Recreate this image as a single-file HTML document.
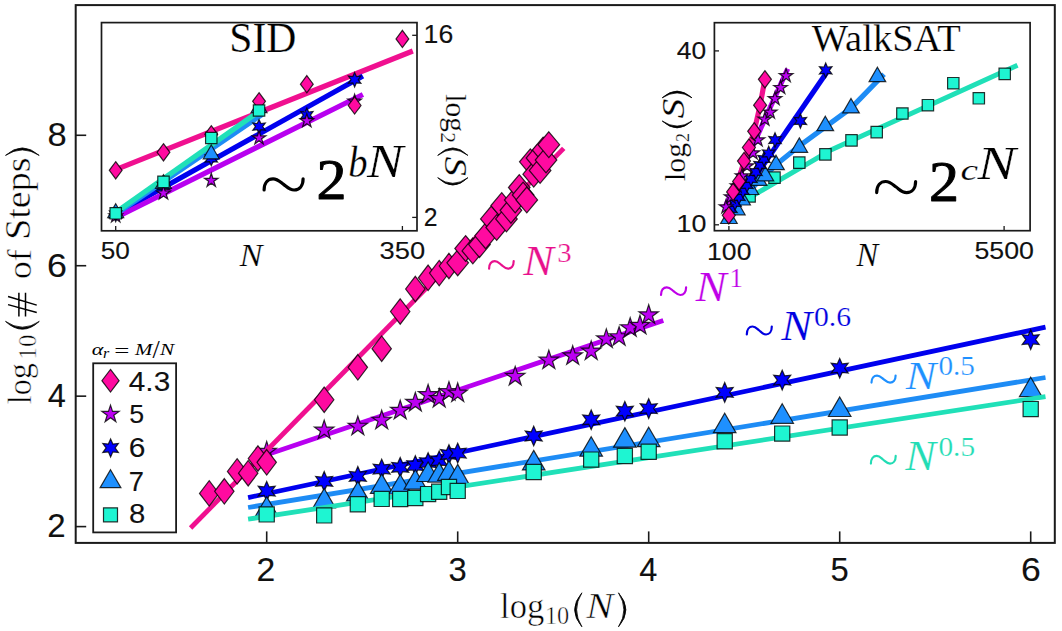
<!DOCTYPE html>
<html><head><meta charset="utf-8"><style>
html,body{margin:0;padding:0;background:#fff;}
svg{display:block;}
</style></head><body>
<svg width="1062" height="631" viewBox="0 0 1062 631">
<rect width="1062" height="631" fill="#fff"/>
<path d="M248.1,497.6L1045.5,327.2" fill="none" stroke="#0000ee" stroke-width="4.8" stroke-linecap="butt" stroke-linejoin="round"/>
<path d="M266.7,481.4L269.15,486.96L275.19,486.3L271.6,491.2L275.19,496.1L269.15,495.44L266.7,501L264.25,495.44L258.21,496.1L261.8,491.2L258.21,486.3L264.25,486.96Z" fill="#0000ff" stroke="#000" stroke-opacity="0.8" stroke-width="1.2"/>
<path d="M324.2,471.6L326.65,477.16L332.68,476.5L329.1,481.4L332.68,486.3L326.65,485.64L324.2,491.2L321.75,485.64L315.71,486.3L319.3,481.4L315.71,476.5L321.75,477.16Z" fill="#0000ff" stroke="#000" stroke-opacity="0.8" stroke-width="1.2"/>
<path d="M357.83,466.6L360.28,472.16L366.32,471.5L362.73,476.4L366.32,481.3L360.28,480.64L357.83,486.2L355.38,480.64L349.34,481.3L352.93,476.4L349.34,471.5L355.38,472.16Z" fill="#0000ff" stroke="#000" stroke-opacity="0.8" stroke-width="1.2"/>
<path d="M381.69,459.3L384.14,464.86L390.18,464.2L386.59,469.1L390.18,474L384.14,473.34L381.69,478.9L379.24,473.34L373.21,474L376.79,469.1L373.21,464.2L379.24,464.86Z" fill="#0000ff" stroke="#000" stroke-opacity="0.8" stroke-width="1.2"/>
<path d="M400.2,457.5L402.65,463.06L408.69,462.4L405.1,467.3L408.69,472.2L402.65,471.54L400.2,477.1L397.75,471.54L391.72,472.2L395.3,467.3L391.72,462.4L397.75,463.06Z" fill="#0000ff" stroke="#000" stroke-opacity="0.8" stroke-width="1.2"/>
<path d="M415.33,455.8L417.78,461.36L423.81,460.7L420.23,465.6L423.81,470.5L417.78,469.84L415.33,475.4L412.88,469.84L406.84,470.5L410.43,465.6L406.84,460.7L412.88,461.36Z" fill="#0000ff" stroke="#000" stroke-opacity="0.8" stroke-width="1.2"/>
<path d="M428.11,452.8L430.56,458.36L436.6,457.7L433.01,462.6L436.6,467.5L430.56,466.84L428.11,472.4L425.66,466.84L419.63,467.5L423.21,462.6L419.63,457.7L425.66,458.36Z" fill="#0000ff" stroke="#000" stroke-opacity="0.8" stroke-width="1.2"/>
<path d="M439.19,451L441.64,456.56L447.68,455.9L444.09,460.8L447.68,465.7L441.64,465.04L439.19,470.6L436.74,465.04L430.7,465.7L434.29,460.8L430.7,455.9L436.74,456.56Z" fill="#0000ff" stroke="#000" stroke-opacity="0.8" stroke-width="1.2"/>
<path d="M448.96,444.7L451.41,450.26L457.45,449.6L453.86,454.5L457.45,459.4L451.41,458.74L448.96,464.3L446.51,458.74L440.47,459.4L444.06,454.5L440.47,449.6L446.51,450.26Z" fill="#0000ff" stroke="#000" stroke-opacity="0.8" stroke-width="1.2"/>
<path d="M457.7,443.3L460.15,448.86L466.19,448.2L462.6,453.1L466.19,458L460.15,457.34L457.7,462.9L455.25,457.34L449.21,458L452.8,453.1L449.21,448.2L455.25,448.86Z" fill="#0000ff" stroke="#000" stroke-opacity="0.8" stroke-width="1.2"/>
<path d="M533.71,426.2L536.16,431.76L542.19,431.1L538.61,436L542.19,440.9L536.16,440.24L533.71,445.8L531.26,440.24L525.22,440.9L528.81,436L525.22,431.1L531.26,431.76Z" fill="#0000ff" stroke="#000" stroke-opacity="0.8" stroke-width="1.2"/>
<path d="M591.2,410L593.65,415.56L599.69,414.9L596.1,419.8L599.69,424.7L593.65,424.04L591.2,429.6L588.75,424.04L582.72,424.7L586.3,419.8L582.72,414.9L588.75,415.56Z" fill="#0000ff" stroke="#000" stroke-opacity="0.8" stroke-width="1.2"/>
<path d="M624.84,401.4L627.29,406.96L633.32,406.3L629.74,411.2L633.32,416.1L627.29,415.44L624.84,421L622.39,415.44L616.35,416.1L619.94,411.2L616.35,406.3L622.39,406.96Z" fill="#0000ff" stroke="#000" stroke-opacity="0.8" stroke-width="1.2"/>
<path d="M648.7,398.8L651.15,404.36L657.19,403.7L653.6,408.6L657.19,413.5L651.15,412.84L648.7,418.4L646.25,412.84L640.21,413.5L643.8,408.6L640.21,403.7L646.25,404.36Z" fill="#0000ff" stroke="#000" stroke-opacity="0.8" stroke-width="1.2"/>
<path d="M724.71,382.6L727.16,388.16L733.19,387.5L729.61,392.4L733.19,397.3L727.16,396.64L724.71,402.2L722.26,396.64L716.22,397.3L719.81,392.4L716.22,387.5L722.26,388.16Z" fill="#0000ff" stroke="#000" stroke-opacity="0.8" stroke-width="1.2"/>
<path d="M782.2,370.3L784.65,375.86L790.69,375.2L787.1,380.1L790.69,385L784.65,384.34L782.2,389.9L779.75,384.34L773.72,385L777.3,380.1L773.72,375.2L779.75,375.86Z" fill="#0000ff" stroke="#000" stroke-opacity="0.8" stroke-width="1.2"/>
<path d="M839.7,358.4L842.15,363.96L848.19,363.3L844.6,368.2L848.19,373.1L842.15,372.44L839.7,378L837.25,372.44L831.21,373.1L834.8,368.2L831.21,363.3L837.25,363.96Z" fill="#0000ff" stroke="#000" stroke-opacity="0.8" stroke-width="1.2"/>
<path d="M1030.7,329.8L1033.15,335.36L1039.19,334.7L1035.6,339.6L1039.19,344.5L1033.15,343.84L1030.7,349.4L1028.25,343.84L1022.21,344.5L1025.8,339.6L1022.21,334.7L1028.25,335.36Z" fill="#0000ff" stroke="#000" stroke-opacity="0.8" stroke-width="1.2"/>
<path d="M248.1,507.5L1045.5,377.5" fill="none" stroke="#1e8cf5" stroke-width="4.8" stroke-linecap="butt" stroke-linejoin="round"/>
<path d="M266.7,496.6L277.96,516.1L255.44,516.1Z" fill="#1e90ff" stroke="#000" stroke-opacity="0.8" stroke-width="1.2"/>
<path d="M324.2,488.5L335.45,508L312.94,508Z" fill="#1e90ff" stroke="#000" stroke-opacity="0.8" stroke-width="1.2"/>
<path d="M357.83,481.4L369.09,500.9L346.57,500.9Z" fill="#1e90ff" stroke="#000" stroke-opacity="0.8" stroke-width="1.2"/>
<path d="M381.69,473.9L392.95,493.4L370.44,493.4Z" fill="#1e90ff" stroke="#000" stroke-opacity="0.8" stroke-width="1.2"/>
<path d="M400.2,474.5L411.46,494L388.95,494Z" fill="#1e90ff" stroke="#000" stroke-opacity="0.8" stroke-width="1.2"/>
<path d="M415.33,469.7L426.58,489.2L404.07,489.2Z" fill="#1e90ff" stroke="#000" stroke-opacity="0.8" stroke-width="1.2"/>
<path d="M428.11,462L439.37,481.5L416.86,481.5Z" fill="#1e90ff" stroke="#000" stroke-opacity="0.8" stroke-width="1.2"/>
<path d="M439.19,462.6L450.45,482.1L427.93,482.1Z" fill="#1e90ff" stroke="#000" stroke-opacity="0.8" stroke-width="1.2"/>
<path d="M448.96,460.8L460.22,480.3L437.7,480.3Z" fill="#1e90ff" stroke="#000" stroke-opacity="0.8" stroke-width="1.2"/>
<path d="M457.7,464.4L468.96,483.9L446.44,483.9Z" fill="#1e90ff" stroke="#000" stroke-opacity="0.8" stroke-width="1.2"/>
<path d="M533.71,450.4L544.96,469.9L522.45,469.9Z" fill="#1e90ff" stroke="#000" stroke-opacity="0.8" stroke-width="1.2"/>
<path d="M591.2,436.7L602.46,456.2L579.95,456.2Z" fill="#1e90ff" stroke="#000" stroke-opacity="0.8" stroke-width="1.2"/>
<path d="M624.84,427.6L636.09,447.1L613.58,447.1Z" fill="#1e90ff" stroke="#000" stroke-opacity="0.8" stroke-width="1.2"/>
<path d="M648.7,427.2L659.96,446.7L637.44,446.7Z" fill="#1e90ff" stroke="#000" stroke-opacity="0.8" stroke-width="1.2"/>
<path d="M724.71,413.2L735.96,432.7L713.45,432.7Z" fill="#1e90ff" stroke="#000" stroke-opacity="0.8" stroke-width="1.2"/>
<path d="M782.2,403.8L793.46,423.3L770.95,423.3Z" fill="#1e90ff" stroke="#000" stroke-opacity="0.8" stroke-width="1.2"/>
<path d="M839.7,397L850.96,416.5L828.44,416.5Z" fill="#1e90ff" stroke="#000" stroke-opacity="0.8" stroke-width="1.2"/>
<path d="M1030.7,377.2L1041.96,396.7L1019.44,396.7Z" fill="#1e90ff" stroke="#000" stroke-opacity="0.8" stroke-width="1.2"/>
<path d="M248.1,519.2L1045.5,396.6" fill="none" stroke="#20e0b8" stroke-width="4.8" stroke-linecap="butt" stroke-linejoin="round"/>
<path d="M259.1,506.8h15.2v15.2h-15.2Z" fill="#1ef5d2" stroke="#000" stroke-opacity="0.8" stroke-width="1.2"/>
<path d="M316.6,507.8h15.2v15.2h-15.2Z" fill="#1ef5d2" stroke="#000" stroke-opacity="0.8" stroke-width="1.2"/>
<path d="M350.23,496.6h15.2v15.2h-15.2Z" fill="#1ef5d2" stroke="#000" stroke-opacity="0.8" stroke-width="1.2"/>
<path d="M374.09,491.3h15.2v15.2h-15.2Z" fill="#1ef5d2" stroke="#000" stroke-opacity="0.8" stroke-width="1.2"/>
<path d="M392.6,491.4h15.2v15.2h-15.2Z" fill="#1ef5d2" stroke="#000" stroke-opacity="0.8" stroke-width="1.2"/>
<path d="M407.73,490.4h15.2v15.2h-15.2Z" fill="#1ef5d2" stroke="#000" stroke-opacity="0.8" stroke-width="1.2"/>
<path d="M420.51,486.5h15.2v15.2h-15.2Z" fill="#1ef5d2" stroke="#000" stroke-opacity="0.8" stroke-width="1.2"/>
<path d="M431.59,484.2h15.2v15.2h-15.2Z" fill="#1ef5d2" stroke="#000" stroke-opacity="0.8" stroke-width="1.2"/>
<path d="M441.36,479.4h15.2v15.2h-15.2Z" fill="#1ef5d2" stroke="#000" stroke-opacity="0.8" stroke-width="1.2"/>
<path d="M450.1,483.3h15.2v15.2h-15.2Z" fill="#1ef5d2" stroke="#000" stroke-opacity="0.8" stroke-width="1.2"/>
<path d="M526.11,464.4h15.2v15.2h-15.2Z" fill="#1ef5d2" stroke="#000" stroke-opacity="0.8" stroke-width="1.2"/>
<path d="M583.6,452h15.2v15.2h-15.2Z" fill="#1ef5d2" stroke="#000" stroke-opacity="0.8" stroke-width="1.2"/>
<path d="M617.24,448.4h15.2v15.2h-15.2Z" fill="#1ef5d2" stroke="#000" stroke-opacity="0.8" stroke-width="1.2"/>
<path d="M641.1,444.1h15.2v15.2h-15.2Z" fill="#1ef5d2" stroke="#000" stroke-opacity="0.8" stroke-width="1.2"/>
<path d="M717.11,433.6h15.2v15.2h-15.2Z" fill="#1ef5d2" stroke="#000" stroke-opacity="0.8" stroke-width="1.2"/>
<path d="M774.6,426h15.2v15.2h-15.2Z" fill="#1ef5d2" stroke="#000" stroke-opacity="0.8" stroke-width="1.2"/>
<path d="M832.1,419.9h15.2v15.2h-15.2Z" fill="#1ef5d2" stroke="#000" stroke-opacity="0.8" stroke-width="1.2"/>
<path d="M1023.1,401.5h15.2v15.2h-15.2Z" fill="#1ef5d2" stroke="#000" stroke-opacity="0.8" stroke-width="1.2"/>
<path d="M266.7,454.8L663.3,320.6" fill="none" stroke="#b800f0" stroke-width="4.8" stroke-linecap="butt" stroke-linejoin="round"/>
<path d="M266.7,441.4L268.99,448.45L276.4,448.45L270.41,452.8L272.7,459.85L266.7,455.5L260.7,459.85L262.99,452.8L257,448.45L264.41,448.45Z" fill="#bc00f2" stroke="#000" stroke-opacity="0.8" stroke-width="1.2"/>
<path d="M324.2,420.1L326.49,427.15L333.9,427.15L327.9,431.5L330.19,438.55L324.2,434.2L318.2,438.55L320.49,431.5L314.5,427.15L321.91,427.15Z" fill="#bc00f2" stroke="#000" stroke-opacity="0.8" stroke-width="1.2"/>
<path d="M357.83,416.2L360.12,423.25L367.53,423.25L361.54,427.6L363.83,434.65L357.83,430.3L351.83,434.65L354.12,427.6L348.13,423.25L355.54,423.25Z" fill="#bc00f2" stroke="#000" stroke-opacity="0.8" stroke-width="1.2"/>
<path d="M381.69,410.2L383.98,417.25L391.39,417.25L385.4,421.6L387.69,428.65L381.69,424.3L375.7,428.65L377.99,421.6L371.99,417.25L379.4,417.25Z" fill="#bc00f2" stroke="#000" stroke-opacity="0.8" stroke-width="1.2"/>
<path d="M400.2,400.3L402.49,407.35L409.9,407.35L403.91,411.7L406.2,418.75L400.2,414.4L394.21,418.75L396.5,411.7L390.5,407.35L397.91,407.35Z" fill="#bc00f2" stroke="#000" stroke-opacity="0.8" stroke-width="1.2"/>
<path d="M415.33,392.4L417.62,399.45L425.03,399.45L419.03,403.8L421.32,410.85L415.33,406.5L409.33,410.85L411.62,403.8L405.63,399.45L413.04,399.45Z" fill="#bc00f2" stroke="#000" stroke-opacity="0.8" stroke-width="1.2"/>
<path d="M428.11,384.5L430.4,391.55L437.81,391.55L431.82,395.9L434.11,402.95L428.11,398.6L422.12,402.95L424.41,395.9L418.41,391.55L425.82,391.55Z" fill="#bc00f2" stroke="#000" stroke-opacity="0.8" stroke-width="1.2"/>
<path d="M439.19,388.5L441.48,395.55L448.89,395.55L442.9,399.9L445.19,406.95L439.19,402.6L433.19,406.95L435.48,399.9L429.49,395.55L436.9,395.55Z" fill="#bc00f2" stroke="#000" stroke-opacity="0.8" stroke-width="1.2"/>
<path d="M448.96,381.6L451.25,388.65L458.66,388.65L452.67,393L454.96,400.05L448.96,395.7L442.96,400.05L445.25,393L439.26,388.65L446.67,388.65Z" fill="#bc00f2" stroke="#000" stroke-opacity="0.8" stroke-width="1.2"/>
<path d="M457.7,383L459.99,390.05L467.4,390.05L461.41,394.4L463.7,401.45L457.7,397.1L451.7,401.45L453.99,394.4L448,390.05L455.41,390.05Z" fill="#bc00f2" stroke="#000" stroke-opacity="0.8" stroke-width="1.2"/>
<path d="M515.2,366.4L517.49,373.45L524.9,373.45L518.9,377.8L521.19,384.85L515.2,380.5L509.2,384.85L511.49,377.8L505.5,373.45L512.91,373.45Z" fill="#bc00f2" stroke="#000" stroke-opacity="0.8" stroke-width="1.2"/>
<path d="M548.83,350.1L551.12,357.15L558.53,357.15L552.54,361.5L554.83,368.55L548.83,364.2L542.83,368.55L545.12,361.5L539.13,357.15L546.54,357.15Z" fill="#bc00f2" stroke="#000" stroke-opacity="0.8" stroke-width="1.2"/>
<path d="M572.69,345.8L574.98,352.85L582.39,352.85L576.4,357.2L578.69,364.25L572.69,359.9L566.7,364.25L568.99,357.2L562.99,352.85L570.4,352.85Z" fill="#bc00f2" stroke="#000" stroke-opacity="0.8" stroke-width="1.2"/>
<path d="M591.2,341L593.49,348.05L600.9,348.05L594.91,352.4L597.2,359.45L591.2,355.1L585.21,359.45L587.5,352.4L581.5,348.05L588.91,348.05Z" fill="#bc00f2" stroke="#000" stroke-opacity="0.8" stroke-width="1.2"/>
<path d="M606.33,328.9L608.62,335.95L616.03,335.95L610.03,340.3L612.32,347.35L606.33,343L600.33,347.35L602.62,340.3L596.63,335.95L604.04,335.95Z" fill="#bc00f2" stroke="#000" stroke-opacity="0.8" stroke-width="1.2"/>
<path d="M619.11,326.7L621.4,333.75L628.81,333.75L622.82,338.1L625.11,345.15L619.11,340.8L613.12,345.15L615.41,338.1L609.41,333.75L616.82,333.75Z" fill="#bc00f2" stroke="#000" stroke-opacity="0.8" stroke-width="1.2"/>
<path d="M630.19,317.7L632.48,324.75L639.89,324.75L633.9,329.1L636.19,336.15L630.19,331.8L624.19,336.15L626.48,329.1L620.49,324.75L627.9,324.75Z" fill="#bc00f2" stroke="#000" stroke-opacity="0.8" stroke-width="1.2"/>
<path d="M639.96,315.3L642.25,322.35L649.66,322.35L643.67,326.7L645.96,333.75L639.96,329.4L633.96,333.75L636.25,326.7L630.26,322.35L637.67,322.35Z" fill="#bc00f2" stroke="#000" stroke-opacity="0.8" stroke-width="1.2"/>
<path d="M648.7,304.8L650.99,311.85L658.4,311.85L652.41,316.2L654.7,323.25L648.7,318.9L642.7,323.25L644.99,316.2L639,311.85L646.41,311.85Z" fill="#bc00f2" stroke="#000" stroke-opacity="0.8" stroke-width="1.2"/>
<path d="M190.6,528L563.7,148.4" fill="none" stroke="#f01090" stroke-width="4.8" stroke-linecap="butt" stroke-linejoin="round"/>
<path d="M209.2,480.7L218.9,493.4L209.2,506.1L199.5,493.4Z" fill="#ff0aa0" stroke="#000" stroke-opacity="0.8" stroke-width="1.2"/>
<path d="M224.33,478.6L234.03,491.3L224.33,504L214.63,491.3Z" fill="#ff0aa0" stroke="#000" stroke-opacity="0.8" stroke-width="1.2"/>
<path d="M237.11,458.7L246.81,471.4L237.11,484.1L227.41,471.4Z" fill="#ff0aa0" stroke="#000" stroke-opacity="0.8" stroke-width="1.2"/>
<path d="M248.19,460.5L257.89,473.2L248.19,485.9L238.49,473.2Z" fill="#ff0aa0" stroke="#000" stroke-opacity="0.8" stroke-width="1.2"/>
<path d="M257.96,445.8L267.66,458.5L257.96,471.2L248.26,458.5Z" fill="#ff0aa0" stroke="#000" stroke-opacity="0.8" stroke-width="1.2"/>
<path d="M266.7,449.6L276.4,462.3L266.7,475L257,462.3Z" fill="#ff0aa0" stroke="#000" stroke-opacity="0.8" stroke-width="1.2"/>
<path d="M324.2,387.05L333.9,399.75L324.2,412.45L314.5,399.75Z" fill="#ff0aa0" stroke="#000" stroke-opacity="0.8" stroke-width="1.2"/>
<path d="M357.83,354.6L367.53,367.3L357.83,380L348.13,367.3Z" fill="#ff0aa0" stroke="#000" stroke-opacity="0.8" stroke-width="1.2"/>
<path d="M381.69,336L391.39,348.7L381.69,361.4L371.99,348.7Z" fill="#ff0aa0" stroke="#000" stroke-opacity="0.8" stroke-width="1.2"/>
<path d="M400.2,298.8L409.9,311.5L400.2,324.2L390.5,311.5Z" fill="#ff0aa0" stroke="#000" stroke-opacity="0.8" stroke-width="1.2"/>
<path d="M415.33,276.3L425.03,289L415.33,301.7L405.63,289Z" fill="#ff0aa0" stroke="#000" stroke-opacity="0.8" stroke-width="1.2"/>
<path d="M428.11,265.1L437.81,277.8L428.11,290.5L418.41,277.8Z" fill="#ff0aa0" stroke="#000" stroke-opacity="0.8" stroke-width="1.2"/>
<path d="M439.19,260.4L448.89,273.1L439.19,285.8L429.49,273.1Z" fill="#ff0aa0" stroke="#000" stroke-opacity="0.8" stroke-width="1.2"/>
<path d="M448.96,253.3L458.66,266L448.96,278.7L439.26,266Z" fill="#ff0aa0" stroke="#000" stroke-opacity="0.8" stroke-width="1.2"/>
<path d="M457.7,249.9L468.5,262.8L457.7,275.7L446.9,262.8Z" fill="#ff0aa0" stroke="#000" stroke-opacity="0.8" stroke-width="1.2"/>
<path d="M465.61,235.6L476.41,248.5L465.61,261.4L454.81,248.5Z" fill="#ff0aa0" stroke="#000" stroke-opacity="0.8" stroke-width="1.2"/>
<path d="M472.82,238L483.62,250.9L472.82,263.8L462.02,250.9Z" fill="#ff0aa0" stroke="#000" stroke-opacity="0.8" stroke-width="1.2"/>
<path d="M479.46,231.7L490.26,244.6L479.46,257.5L468.66,244.6Z" fill="#ff0aa0" stroke="#000" stroke-opacity="0.8" stroke-width="1.2"/>
<path d="M485.61,222.9L496.41,235.8L485.61,248.7L474.81,235.8Z" fill="#ff0aa0" stroke="#000" stroke-opacity="0.8" stroke-width="1.2"/>
<path d="M491.33,206L502.13,218.9L491.33,231.8L480.53,218.9Z" fill="#ff0aa0" stroke="#000" stroke-opacity="0.8" stroke-width="1.2"/>
<path d="M496.69,214.6L507.49,227.5L496.69,240.4L485.89,227.5Z" fill="#ff0aa0" stroke="#000" stroke-opacity="0.8" stroke-width="1.2"/>
<path d="M501.72,192.7L512.52,205.6L501.72,218.5L490.92,205.6Z" fill="#ff0aa0" stroke="#000" stroke-opacity="0.8" stroke-width="1.2"/>
<path d="M506.46,206L517.26,218.9L506.46,231.8L495.66,218.9Z" fill="#ff0aa0" stroke="#000" stroke-opacity="0.8" stroke-width="1.2"/>
<path d="M510.94,197.4L521.74,210.3L510.94,223.2L500.14,210.3Z" fill="#ff0aa0" stroke="#000" stroke-opacity="0.8" stroke-width="1.2"/>
<path d="M515.2,187.1L526,200L515.2,212.9L504.4,200Z" fill="#ff0aa0" stroke="#000" stroke-opacity="0.8" stroke-width="1.2"/>
<path d="M519.24,174.6L530.04,187.5L519.24,200.4L508.44,187.5Z" fill="#ff0aa0" stroke="#000" stroke-opacity="0.8" stroke-width="1.2"/>
<path d="M523.1,182.1L533.9,195L523.1,207.9L512.3,195Z" fill="#ff0aa0" stroke="#000" stroke-opacity="0.8" stroke-width="1.2"/>
<path d="M526.79,187L537.59,199.9L526.79,212.8L515.99,199.9Z" fill="#ff0aa0" stroke="#000" stroke-opacity="0.8" stroke-width="1.2"/>
<path d="M530.32,148.9L541.12,161.8L530.32,174.7L519.52,161.8Z" fill="#ff0aa0" stroke="#000" stroke-opacity="0.8" stroke-width="1.2"/>
<path d="M533.71,161.3L544.51,174.2L533.71,187.1L522.91,174.2Z" fill="#ff0aa0" stroke="#000" stroke-opacity="0.8" stroke-width="1.2"/>
<path d="M536.96,145.1L547.76,158L536.96,170.9L526.16,158Z" fill="#ff0aa0" stroke="#000" stroke-opacity="0.8" stroke-width="1.2"/>
<path d="M540.09,157.5L550.89,170.4L540.09,183.3L529.29,170.4Z" fill="#ff0aa0" stroke="#000" stroke-opacity="0.8" stroke-width="1.2"/>
<path d="M543.11,137.1L553.91,150L543.11,162.9L532.31,150Z" fill="#ff0aa0" stroke="#000" stroke-opacity="0.8" stroke-width="1.2"/>
<path d="M546.02,147.1L556.82,160L546.02,172.9L535.22,160Z" fill="#ff0aa0" stroke="#000" stroke-opacity="0.8" stroke-width="1.2"/>
<path d="M548.83,131.8L559.63,144.7L548.83,157.6L538.03,144.7Z" fill="#ff0aa0" stroke="#000" stroke-opacity="0.8" stroke-width="1.2"/>
<rect x="75.7" y="5.1" width="979.1" height="537.8" fill="none" stroke="#1a1a1a" stroke-width="2"/>
<path d="M75.7,526.6H86.2" stroke="#1a1a1a" stroke-width="1.6"/>
<path d="M75.7,396.16H86.2" stroke="#1a1a1a" stroke-width="1.6"/>
<path d="M75.7,265.72H86.2" stroke="#1a1a1a" stroke-width="1.6"/>
<path d="M75.7,135.28H86.2" stroke="#1a1a1a" stroke-width="1.6"/>
<path d="M266.7,542.9V531.4" stroke="#1a1a1a" stroke-width="1.6"/>
<path d="M457.7,542.9V531.4" stroke="#1a1a1a" stroke-width="1.6"/>
<path d="M648.7,542.9V531.4" stroke="#1a1a1a" stroke-width="1.6"/>
<path d="M839.7,542.9V531.4" stroke="#1a1a1a" stroke-width="1.6"/>
<path d="M1030.7,542.9V531.4" stroke="#1a1a1a" stroke-width="1.6"/>
<path transform="translate(574.2,592.4)" d="M7.7,0.4Q-6.9,17.4 7.7,34.4Q-2.9,17.4 7.7,0.4Z" fill="#000" stroke="#000" stroke-width="0.8" stroke-linejoin="round"/>
<path transform="translate(618.1,592.4)" d="M0.4,0.4Q15.2,17.4 0.4,34.4Q11.2,17.4 0.4,0.4Z" fill="#000" stroke="#000" stroke-width="0.8" stroke-linejoin="round"/>
<path transform="matrix(0,-1,1,0,5.1,329.6)" d="M8.2,0.4Q-7.4,17.3 8.2,34.2Q-3.4,17.3 8.2,0.4Z" fill="#000" stroke="#000" stroke-width="0.8" stroke-linejoin="round"/>
<path transform="matrix(0,-1,1,0,7.3,316.6)" d="M0,11.6H23.9M0,18.21H23.9M20.08,0.75L11.47,29.45M11.95,0.75L4.06,29.45" fill="none" stroke="#000" stroke-width="1.5"/>
<path transform="matrix(0,-1,1,0,5.1,155.8)" d="M0.4,0.4Q15.4,17.25 0.4,34.1Q11.4,17.25 0.4,0.4Z" fill="#000" stroke="#000" stroke-width="0.8" stroke-linejoin="round"/>
<path d="M489.1,268.7C489.1,263.76 491.56,261.1 494.76,261.1C497.71,261.1 499.43,263.38 501.4,264.9C503.37,266.42 505.09,268.7 508.04,268.7C511.24,268.7 513.7,266.04 513.7,261.1" fill="none" stroke="#e8108c" stroke-width="2.2" stroke-linecap="round"/>
<path d="M661,295C661,290 663.51,287.3 666.77,287.3C669.78,287.3 671.54,289.61 673.55,291.15C675.56,292.69 677.32,295 680.33,295C683.59,295 686.1,292.31 686.1,287.3" fill="none" stroke="#c000e8" stroke-width="2.2" stroke-linecap="round"/>
<path d="M746.8,334.5C746.8,329.3 749.3,326.5 752.55,326.5C755.55,326.5 757.3,328.9 759.3,330.5C761.3,332.1 763.05,334.5 766.05,334.5C769.3,334.5 771.8,331.7 771.8,326.5" fill="none" stroke="#0000e0" stroke-width="2.2" stroke-linecap="round"/>
<path d="M871.5,382.6C871.5,378.05 873.91,375.6 877.04,375.6C879.94,375.6 881.62,377.7 883.55,379.1C885.48,380.5 887.16,382.6 890.06,382.6C893.19,382.6 895.6,380.15 895.6,375.6" fill="none" stroke="#1e90ff" stroke-width="2.2" stroke-linecap="round"/>
<path d="M870.9,463.6C870.9,458.6 873.38,455.9 876.6,455.9C879.58,455.9 881.32,458.21 883.3,459.75C885.28,461.29 887.02,463.6 890,463.6C893.22,463.6 895.7,460.9 895.7,455.9" fill="none" stroke="#22dcb4" stroke-width="2.2" stroke-linecap="round"/>
<rect x="93.2" y="363.3" width="82.9" height="169.1" fill="#fff" stroke="#1a1a1a" stroke-width="1.8"/>
<path d="M110.5,369.4L119.1,380.7L110.5,392L101.9,380.7Z" fill="#ff0aa0" stroke="#000" stroke-opacity="0.8" stroke-width="1.2"/>
<path d="M110.5,405.1L112.54,411.39L119.15,411.39L113.81,415.27L115.85,421.56L110.5,417.68L105.15,421.56L107.19,415.27L101.85,411.39L108.46,411.39Z" fill="#bc00f2" stroke="#000" stroke-opacity="0.8" stroke-width="1.2"/>
<path d="M110.6,438.9L112.85,444L118.39,443.4L115.1,447.9L118.39,452.4L112.85,451.8L110.6,456.9L108.35,451.8L102.81,452.4L106.1,447.9L102.81,443.4L108.35,444Z" fill="#0000ff" stroke="#000" stroke-opacity="0.8" stroke-width="1.2"/>
<path d="M110.5,469.7L120.89,487.7L100.11,487.7Z" fill="#1e90ff" stroke="#000" stroke-opacity="0.8" stroke-width="1.2"/>
<path d="M103.5,507.8h14v14h-14Z" fill="#1ef5d2" stroke="#000" stroke-opacity="0.8" stroke-width="1.2"/>
<rect x="101.5" y="22.6" width="315.5" height="208.2" fill="#fff" stroke="#1a1a1a" stroke-width="1.7"/>
<path d="M115.1,169.9L412.8,51" fill="none" stroke="#f01090" stroke-width="5.2" stroke-linecap="butt" stroke-linejoin="round"/>
<path d="M115.1,214.5L362.9,76" fill="none" stroke="#0000ee" stroke-width="5.2" stroke-linecap="butt" stroke-linejoin="round"/>
<path d="M115.1,218L362.9,94.5" fill="none" stroke="#b800f0" stroke-width="5.2" stroke-linecap="butt" stroke-linejoin="round"/>
<path d="M115.7,214.2L262.2,114.3" fill="none" stroke="#1e8cf5" stroke-width="5.2" stroke-linecap="butt" stroke-linejoin="round"/>
<path d="M115.7,212.3L260.3,110.5" fill="none" stroke="#20e0b8" stroke-width="5.2" stroke-linecap="butt" stroke-linejoin="round"/>
<path d="M115.7,207.3L117.5,211.38L121.94,210.9L119.3,214.5L121.94,218.1L117.5,217.62L115.7,221.7L113.9,217.62L109.46,218.1L112.1,214.5L109.46,210.9L113.9,211.38Z" fill="#0000ff" stroke="#000" stroke-opacity="0.8" stroke-width="1.2"/>
<path d="M163.48,178.8L165.28,182.88L169.72,182.4L167.08,186L169.72,189.6L165.28,189.12L163.48,193.2L161.68,189.12L157.25,189.6L159.88,186L157.25,182.4L161.68,182.88Z" fill="#0000ff" stroke="#000" stroke-opacity="0.8" stroke-width="1.2"/>
<path d="M211.27,151.3L213.07,155.38L217.5,154.9L214.87,158.5L217.5,162.1L213.07,161.62L211.27,165.7L209.47,161.62L205.03,162.1L207.67,158.5L205.03,154.9L209.47,155.38Z" fill="#0000ff" stroke="#000" stroke-opacity="0.8" stroke-width="1.2"/>
<path d="M259.05,119.4L260.85,123.48L265.29,123L262.65,126.6L265.29,130.2L260.85,129.72L259.05,133.8L257.25,129.72L252.81,130.2L255.45,126.6L252.81,123L257.25,123.48Z" fill="#0000ff" stroke="#000" stroke-opacity="0.8" stroke-width="1.2"/>
<path d="M306.83,107.9L308.63,111.98L313.07,111.5L310.43,115.1L313.07,118.7L308.63,118.22L306.83,122.3L305.03,118.22L300.6,118.7L303.23,115.1L300.6,111.5L305.03,111.98Z" fill="#0000ff" stroke="#000" stroke-opacity="0.8" stroke-width="1.2"/>
<path d="M354.62,72.5L356.42,76.58L360.85,76.1L358.22,79.7L360.85,83.3L356.42,82.82L354.62,86.9L352.82,82.82L348.38,83.3L351.02,79.7L348.38,76.1L352.82,76.58Z" fill="#0000ff" stroke="#000" stroke-opacity="0.8" stroke-width="1.2"/>
<path d="M115.7,203.8L123.67,217.6L107.73,217.6Z" fill="#1e90ff" stroke="#000" stroke-opacity="0.8" stroke-width="1.2"/>
<path d="M163.48,174.7L171.45,188.5L155.52,188.5Z" fill="#1e90ff" stroke="#000" stroke-opacity="0.8" stroke-width="1.2"/>
<path d="M211.27,145L219.23,158.8L203.3,158.8Z" fill="#1e90ff" stroke="#000" stroke-opacity="0.8" stroke-width="1.2"/>
<path d="M259.05,98.8L267.02,112.6L251.08,112.6Z" fill="#1e90ff" stroke="#000" stroke-opacity="0.8" stroke-width="1.2"/>
<path d="M115.7,208.8L117.32,213.78L122.55,213.78L118.32,216.85L119.93,221.82L115.7,218.75L111.47,221.82L113.08,216.85L108.85,213.78L114.08,213.78Z" fill="#bc00f2" stroke="#000" stroke-opacity="0.8" stroke-width="1.2"/>
<path d="M163.48,186L165.1,190.98L170.33,190.98L166.1,194.05L167.72,199.02L163.48,195.95L159.25,199.02L160.87,194.05L156.64,190.98L161.87,190.98Z" fill="#bc00f2" stroke="#000" stroke-opacity="0.8" stroke-width="1.2"/>
<path d="M211.27,173.3L212.88,178.28L218.11,178.28L213.88,181.35L215.5,186.32L211.27,183.25L207.03,186.32L208.65,181.35L204.42,178.28L209.65,178.28Z" fill="#bc00f2" stroke="#000" stroke-opacity="0.8" stroke-width="1.2"/>
<path d="M259.05,130.8L260.67,135.78L265.9,135.78L261.67,138.85L263.28,143.82L259.05,140.75L254.82,143.82L256.43,138.85L252.2,135.78L257.43,135.78Z" fill="#bc00f2" stroke="#000" stroke-opacity="0.8" stroke-width="1.2"/>
<path d="M306.83,113.7L308.45,118.68L313.68,118.68L309.45,121.75L311.07,126.72L306.83,123.65L302.6,126.72L304.22,121.75L299.99,118.68L305.22,118.68Z" fill="#bc00f2" stroke="#000" stroke-opacity="0.8" stroke-width="1.2"/>
<path d="M354.62,94.1L356.23,99.08L361.46,99.08L357.23,102.15L358.85,107.12L354.62,104.05L350.38,107.12L352,102.15L347.77,99.08L353,99.08Z" fill="#bc00f2" stroke="#000" stroke-opacity="0.8" stroke-width="1.2"/>
<path d="M115.7,161.7L122.1,170.3L115.7,178.9L109.3,170.3Z" fill="#ff0aa0" stroke="#000" stroke-opacity="0.8" stroke-width="1.2"/>
<path d="M163.48,143.7L169.88,152.3L163.48,160.9L157.08,152.3Z" fill="#ff0aa0" stroke="#000" stroke-opacity="0.8" stroke-width="1.2"/>
<path d="M211.27,125.7L217.67,134.3L211.27,142.9L204.87,134.3Z" fill="#ff0aa0" stroke="#000" stroke-opacity="0.8" stroke-width="1.2"/>
<path d="M259.05,92.7L265.45,101.3L259.05,109.9L252.65,101.3Z" fill="#ff0aa0" stroke="#000" stroke-opacity="0.8" stroke-width="1.2"/>
<path d="M306.83,75.6L313.23,84.2L306.83,92.8L300.43,84.2Z" fill="#ff0aa0" stroke="#000" stroke-opacity="0.8" stroke-width="1.2"/>
<path d="M354.62,96.9L361.02,105.5L354.62,114.1L348.22,105.5Z" fill="#ff0aa0" stroke="#000" stroke-opacity="0.8" stroke-width="1.2"/>
<path d="M402.4,30.3L408.8,38.9L402.4,47.5L396,38.9Z" fill="#ff0aa0" stroke="#000" stroke-opacity="0.8" stroke-width="1.2"/>
<path d="M110,207.6h11.4v11.4h-11.4Z" fill="#1ef5d2" stroke="#000" stroke-opacity="0.8" stroke-width="1.2"/>
<path d="M157.78,176.1h11.4v11.4h-11.4Z" fill="#1ef5d2" stroke="#000" stroke-opacity="0.8" stroke-width="1.2"/>
<path d="M205.57,132.3h11.4v11.4h-11.4Z" fill="#1ef5d2" stroke="#000" stroke-opacity="0.8" stroke-width="1.2"/>
<path d="M253.35,104.8h11.4v11.4h-11.4Z" fill="#1ef5d2" stroke="#000" stroke-opacity="0.8" stroke-width="1.2"/>
<path d="M115.7,230.8V226" stroke="#1a1a1a" stroke-width="1.3"/>
<path d="M402.4,230.8V226" stroke="#1a1a1a" stroke-width="1.3"/>
<path d="M417,35.3H412.2" stroke="#1a1a1a" stroke-width="1.3"/>
<path d="M417,217.4H412.2" stroke="#1a1a1a" stroke-width="1.3"/>
<path transform="matrix(0,1,-1,0,468.3,147.5)" d="M7.9,0.4Q-7.1,15.5 7.9,30.6Q-3.5,15.5 7.9,0.4Z" fill="#000" stroke="#000" stroke-width="0.8" stroke-linejoin="round"/>
<path transform="matrix(0,1,-1,0,468.3,177.3)" d="M0.4,0.4Q15.2,15.5 0.4,30.6Q11.6,15.5 0.4,0.4Z" fill="#000" stroke="#000" stroke-width="0.8" stroke-linejoin="round"/>
<path d="M264.1,190C264.1,182.72 268,178.8 273.07,178.8C277.75,178.8 280.48,182.16 283.6,184.4C286.72,186.64 289.45,190 294.13,190C299.2,190 303.1,186.08 303.1,178.8" fill="none" stroke="#000" stroke-width="3.2" stroke-linecap="round"/>
<rect x="714.4" y="22.7" width="315.7" height="208" fill="#fff" stroke="#1a1a1a" stroke-width="1.7"/>
<path d="M735,206L815,159.3L831.4,149.7L1017.5,65.3" fill="none" stroke="#20e0b8" stroke-width="5" stroke-linecap="butt" stroke-linejoin="round"/>
<path d="M728.9,218.7L750.4,189.7L776,164.8L800.8,144.8L851,108.1L884,74.3" fill="none" stroke="#1e8cf5" stroke-width="5.2" stroke-linecap="butt" stroke-linejoin="round"/>
<path d="M729.7,214L826.5,72.7" fill="none" stroke="#0000ee" stroke-width="5.2" stroke-linecap="butt" stroke-linejoin="round"/>
<path d="M725.5,206L764.8,119.4L787.7,68.7" fill="none" stroke="#b800f0" stroke-width="5.2" stroke-linecap="butt" stroke-linejoin="round"/>
<path d="M728.8,215.3L744,161.1L754.2,131.3L760.1,105.2L764.9,79.3" fill="none" stroke="#f01090" stroke-width="5.2" stroke-linecap="butt" stroke-linejoin="round"/>
<path d="M743.9,190.7h11.4v11.4h-11.4Z" fill="#1ef5d2" stroke="#000" stroke-opacity="0.8" stroke-width="1.2"/>
<path d="M768.8,171.9h11.4v11.4h-11.4Z" fill="#1ef5d2" stroke="#000" stroke-opacity="0.8" stroke-width="1.2"/>
<path d="M793.6,156.9h11.4v11.4h-11.4Z" fill="#1ef5d2" stroke="#000" stroke-opacity="0.8" stroke-width="1.2"/>
<path d="M819.7,148.7h11.4v11.4h-11.4Z" fill="#1ef5d2" stroke="#000" stroke-opacity="0.8" stroke-width="1.2"/>
<path d="M845.8,134.7h11.4v11.4h-11.4Z" fill="#1ef5d2" stroke="#000" stroke-opacity="0.8" stroke-width="1.2"/>
<path d="M871,126.4h11.4v11.4h-11.4Z" fill="#1ef5d2" stroke="#000" stroke-opacity="0.8" stroke-width="1.2"/>
<path d="M896.7,107.8h11.4v11.4h-11.4Z" fill="#1ef5d2" stroke="#000" stroke-opacity="0.8" stroke-width="1.2"/>
<path d="M922.2,99.5h11.4v11.4h-11.4Z" fill="#1ef5d2" stroke="#000" stroke-opacity="0.8" stroke-width="1.2"/>
<path d="M947.6,77.5h11.4v11.4h-11.4Z" fill="#1ef5d2" stroke="#000" stroke-opacity="0.8" stroke-width="1.2"/>
<path d="M973.1,92.6h11.4v11.4h-11.4Z" fill="#1ef5d2" stroke="#000" stroke-opacity="0.8" stroke-width="1.2"/>
<path d="M999,68.2h11.4v11.4h-11.4Z" fill="#1ef5d2" stroke="#000" stroke-opacity="0.8" stroke-width="1.2"/>
<path d="M728.9,209.1L737.21,223.5L720.59,223.5Z" fill="#1e90ff" stroke="#000" stroke-opacity="0.8" stroke-width="1.2"/>
<path d="M736.8,200.4L745.11,214.8L728.49,214.8Z" fill="#1e90ff" stroke="#000" stroke-opacity="0.8" stroke-width="1.2"/>
<path d="M742.1,190.6L750.41,205L733.79,205Z" fill="#1e90ff" stroke="#000" stroke-opacity="0.8" stroke-width="1.2"/>
<path d="M750.4,180.1L758.71,194.5L742.09,194.5Z" fill="#1e90ff" stroke="#000" stroke-opacity="0.8" stroke-width="1.2"/>
<path d="M758.6,171L766.91,185.4L750.29,185.4Z" fill="#1e90ff" stroke="#000" stroke-opacity="0.8" stroke-width="1.2"/>
<path d="M765.4,166.5L773.71,180.9L757.09,180.9Z" fill="#1e90ff" stroke="#000" stroke-opacity="0.8" stroke-width="1.2"/>
<path d="M776,155.2L784.31,169.6L767.69,169.6Z" fill="#1e90ff" stroke="#000" stroke-opacity="0.8" stroke-width="1.2"/>
<path d="M799.3,137.9L807.61,152.3L790.99,152.3Z" fill="#1e90ff" stroke="#000" stroke-opacity="0.8" stroke-width="1.2"/>
<path d="M825.3,116.2L833.61,130.6L816.99,130.6Z" fill="#1e90ff" stroke="#000" stroke-opacity="0.8" stroke-width="1.2"/>
<path d="M851,98.5L859.31,112.9L842.69,112.9Z" fill="#1e90ff" stroke="#000" stroke-opacity="0.8" stroke-width="1.2"/>
<path d="M877.4,67.2L885.71,81.6L869.09,81.6Z" fill="#1e90ff" stroke="#000" stroke-opacity="0.8" stroke-width="1.2"/>
<path d="M731,201.8L732.8,205.88L737.24,205.4L734.6,209L737.24,212.6L732.8,212.12L731,216.2L729.2,212.12L724.76,212.6L727.4,209L724.76,205.4L729.2,205.88Z" fill="#0000ff" stroke="#000" stroke-opacity="0.8" stroke-width="1.2"/>
<path d="M735,195.8L736.8,199.88L741.24,199.4L738.6,203L741.24,206.6L736.8,206.12L735,210.2L733.2,206.12L728.76,206.6L731.4,203L728.76,199.4L733.2,199.88Z" fill="#0000ff" stroke="#000" stroke-opacity="0.8" stroke-width="1.2"/>
<path d="M739,189.8L740.8,193.88L745.24,193.4L742.6,197L745.24,200.6L740.8,200.12L739,204.2L737.2,200.12L732.76,200.6L735.4,197L732.76,193.4L737.2,193.88Z" fill="#0000ff" stroke="#000" stroke-opacity="0.8" stroke-width="1.2"/>
<path d="M743,183.8L744.8,187.88L749.24,187.4L746.6,191L749.24,194.6L744.8,194.12L743,198.2L741.2,194.12L736.76,194.6L739.4,191L736.76,187.4L741.2,187.88Z" fill="#0000ff" stroke="#000" stroke-opacity="0.8" stroke-width="1.2"/>
<path d="M747,177.8L748.8,181.88L753.24,181.4L750.6,185L753.24,188.6L748.8,188.12L747,192.2L745.2,188.12L740.76,188.6L743.4,185L740.76,181.4L745.2,181.88Z" fill="#0000ff" stroke="#000" stroke-opacity="0.8" stroke-width="1.2"/>
<path d="M751,171.8L752.8,175.88L757.24,175.4L754.6,179L757.24,182.6L752.8,182.12L751,186.2L749.2,182.12L744.76,182.6L747.4,179L744.76,175.4L749.2,175.88Z" fill="#0000ff" stroke="#000" stroke-opacity="0.8" stroke-width="1.2"/>
<path d="M756,164.8L757.8,168.88L762.24,168.4L759.6,172L762.24,175.6L757.8,175.12L756,179.2L754.2,175.12L749.76,175.6L752.4,172L749.76,168.4L754.2,168.88Z" fill="#0000ff" stroke="#000" stroke-opacity="0.8" stroke-width="1.2"/>
<path d="M760,157.8L761.8,161.88L766.24,161.4L763.6,165L766.24,168.6L761.8,168.12L760,172.2L758.2,168.12L753.76,168.6L756.4,165L753.76,161.4L758.2,161.88Z" fill="#0000ff" stroke="#000" stroke-opacity="0.8" stroke-width="1.2"/>
<path d="M764,151.8L765.8,155.88L770.24,155.4L767.6,159L770.24,162.6L765.8,162.12L764,166.2L762.2,162.12L757.76,162.6L760.4,159L757.76,155.4L762.2,155.88Z" fill="#0000ff" stroke="#000" stroke-opacity="0.8" stroke-width="1.2"/>
<path d="M768.7,146.3L770.5,150.38L774.94,149.9L772.3,153.5L774.94,157.1L770.5,156.62L768.7,160.7L766.9,156.62L762.46,157.1L765.1,153.5L762.46,149.9L766.9,150.38Z" fill="#0000ff" stroke="#000" stroke-opacity="0.8" stroke-width="1.2"/>
<path d="M775,132.8L776.8,136.88L781.24,136.4L778.6,140L781.24,143.6L776.8,143.12L775,147.2L773.2,143.12L768.76,143.6L771.4,140L768.76,136.4L773.2,136.88Z" fill="#0000ff" stroke="#000" stroke-opacity="0.8" stroke-width="1.2"/>
<path d="M800.4,113.8L802.2,117.88L806.64,117.4L804,121L806.64,124.6L802.2,124.12L800.4,128.2L798.6,124.12L794.16,124.6L796.8,121L794.16,117.4L798.6,117.88Z" fill="#0000ff" stroke="#000" stroke-opacity="0.8" stroke-width="1.2"/>
<path d="M825.7,63.1L827.5,67.18L831.94,66.7L829.3,70.3L831.94,73.9L827.5,73.42L825.7,77.5L823.9,73.42L819.46,73.9L822.1,70.3L819.46,66.7L823.9,67.18Z" fill="#0000ff" stroke="#000" stroke-opacity="0.8" stroke-width="1.2"/>
<path d="M726,199.8L727.62,204.78L732.85,204.78L728.62,207.85L730.23,212.82L726,209.75L721.77,212.82L723.38,207.85L719.15,204.78L724.38,204.78Z" fill="#bc00f2" stroke="#000" stroke-opacity="0.8" stroke-width="1.2"/>
<path d="M731,189.8L732.62,194.78L737.85,194.78L733.62,197.85L735.23,202.82L731,199.75L726.77,202.82L728.38,197.85L724.15,194.78L729.38,194.78Z" fill="#bc00f2" stroke="#000" stroke-opacity="0.8" stroke-width="1.2"/>
<path d="M737,178.8L738.62,183.78L743.85,183.78L739.62,186.85L741.23,191.82L737,188.75L732.77,191.82L734.38,186.85L730.15,183.78L735.38,183.78Z" fill="#bc00f2" stroke="#000" stroke-opacity="0.8" stroke-width="1.2"/>
<path d="M742,168.8L743.62,173.78L748.85,173.78L744.62,176.85L746.23,181.82L742,178.75L737.77,181.82L739.38,176.85L735.15,173.78L740.38,173.78Z" fill="#bc00f2" stroke="#000" stroke-opacity="0.8" stroke-width="1.2"/>
<path d="M747,158.8L748.62,163.78L753.85,163.78L749.62,166.85L751.23,171.82L747,168.75L742.77,171.82L744.38,166.85L740.15,163.78L745.38,163.78Z" fill="#bc00f2" stroke="#000" stroke-opacity="0.8" stroke-width="1.2"/>
<path d="M753,145.8L754.62,150.78L759.85,150.78L755.62,153.85L757.23,158.82L753,155.75L748.77,158.82L750.38,153.85L746.15,150.78L751.38,150.78Z" fill="#bc00f2" stroke="#000" stroke-opacity="0.8" stroke-width="1.2"/>
<path d="M758,132.8L759.62,137.78L764.85,137.78L760.62,140.85L762.23,145.82L758,142.75L753.77,145.82L755.38,140.85L751.15,137.78L756.38,137.78Z" fill="#bc00f2" stroke="#000" stroke-opacity="0.8" stroke-width="1.2"/>
<path d="M764.8,112.2L766.42,117.18L771.65,117.18L767.42,120.25L769.03,125.22L764.8,122.15L760.57,125.22L762.18,120.25L757.95,117.18L763.18,117.18Z" fill="#bc00f2" stroke="#000" stroke-opacity="0.8" stroke-width="1.2"/>
<path d="M770.3,105.1L771.92,110.08L777.15,110.08L772.92,113.15L774.53,118.12L770.3,115.05L766.07,118.12L767.68,113.15L763.45,110.08L768.68,110.08Z" fill="#bc00f2" stroke="#000" stroke-opacity="0.8" stroke-width="1.2"/>
<path d="M775,91.6L776.62,96.58L781.85,96.58L777.62,99.65L779.23,104.62L775,101.55L770.77,104.62L772.38,99.65L768.15,96.58L773.38,96.58Z" fill="#bc00f2" stroke="#000" stroke-opacity="0.8" stroke-width="1.2"/>
<path d="M780.6,80.5L782.22,85.48L787.45,85.48L783.22,88.55L784.83,93.52L780.6,90.45L776.37,93.52L777.98,88.55L773.75,85.48L778.98,85.48Z" fill="#bc00f2" stroke="#000" stroke-opacity="0.8" stroke-width="1.2"/>
<path d="M786.1,68.6L787.72,73.58L792.95,73.58L788.72,76.65L790.33,81.62L786.1,78.55L781.87,81.62L783.48,76.65L779.25,73.58L784.48,73.58Z" fill="#bc00f2" stroke="#000" stroke-opacity="0.8" stroke-width="1.2"/>
<path d="M728.8,206.7L735.3,215.3L728.8,223.9L722.3,215.3Z" fill="#ff0aa0" stroke="#000" stroke-opacity="0.8" stroke-width="1.2"/>
<path d="M733.1,183.3L739.6,191.9L733.1,200.5L726.6,191.9Z" fill="#ff0aa0" stroke="#000" stroke-opacity="0.8" stroke-width="1.2"/>
<path d="M739.1,172.8L745.6,181.4L739.1,190L732.6,181.4Z" fill="#ff0aa0" stroke="#000" stroke-opacity="0.8" stroke-width="1.2"/>
<path d="M744,152.5L750.5,161.1L744,169.7L737.5,161.1Z" fill="#ff0aa0" stroke="#000" stroke-opacity="0.8" stroke-width="1.2"/>
<path d="M748.9,138.9L755.4,147.5L748.9,156.1L742.4,147.5Z" fill="#ff0aa0" stroke="#000" stroke-opacity="0.8" stroke-width="1.2"/>
<path d="M754.2,122.7L760.7,131.3L754.2,139.9L747.7,131.3Z" fill="#ff0aa0" stroke="#000" stroke-opacity="0.8" stroke-width="1.2"/>
<path d="M760.1,96.6L766.6,105.2L760.1,113.8L753.6,105.2Z" fill="#ff0aa0" stroke="#000" stroke-opacity="0.8" stroke-width="1.2"/>
<path d="M764.9,70.7L771.4,79.3L764.9,87.9L758.4,79.3Z" fill="#ff0aa0" stroke="#000" stroke-opacity="0.8" stroke-width="1.2"/>
<path d="M728.9,230.7V226" stroke="#1a1a1a" stroke-width="1.3"/>
<path d="M1004.1,230.7V226" stroke="#1a1a1a" stroke-width="1.3"/>
<path d="M714.4,50.9H719" stroke="#1a1a1a" stroke-width="1.3"/>
<path d="M714.4,224.8H719" stroke="#1a1a1a" stroke-width="1.3"/>
<path transform="matrix(0,-1,1,0,661.8,128.3)" d="M7.3,0.4Q-6.5,15.3 7.3,30.2Q-2.9,15.3 7.3,0.4Z" fill="#000" stroke="#000" stroke-width="0.8" stroke-linejoin="round"/>
<path transform="matrix(0,-1,1,0,661.8,98.2)" d="M0.4,0.4Q13.8,15.3 0.4,30.2Q10.2,15.3 0.4,0.4Z" fill="#000" stroke="#000" stroke-width="0.8" stroke-linejoin="round"/>
<path d="M876.7,192.6C876.7,185.38 880.59,181.5 885.65,181.5C890.32,181.5 893.04,184.83 896.15,187.05C899.26,189.27 901.99,192.6 906.65,192.6C911.71,192.6 915.6,188.72 915.6,181.5" fill="none" stroke="#000" stroke-width="3.2" stroke-linecap="round"/>
<text transform="matrix(0.34468 0.00000 0.00000 0.33099 47.52128 146.26901)" font-family="Liberation Sans" font-size="100" fill="#111" stroke="#111" stroke-width="0.355" stroke-linejoin="round">8</text>
<text transform="matrix(0.35870 0.00000 0.00000 0.33380 47.10652 277.26620)" font-family="Liberation Sans" font-size="100" fill="#111" stroke="#111" stroke-width="0.347" stroke-linejoin="round">6</text>
<text transform="matrix(0.32549 0.00000 0.00000 0.33143 47.64902 407.10000)" font-family="Liberation Sans" font-size="100" fill="#111" stroke="#111" stroke-width="0.365" stroke-linejoin="round">4</text>
<text transform="matrix(0.33043 0.00000 0.00000 0.33429 47.24783 537.30000)" font-family="Liberation Sans" font-size="100" fill="#111" stroke="#111" stroke-width="0.361" stroke-linejoin="round">2</text>
<text transform="matrix(0.33696 0.00000 0.00000 0.33286 256.61522 581.00000)" font-family="Liberation Sans" font-size="100" fill="#111" stroke="#111" stroke-width="0.358" stroke-linejoin="round">2</text>
<text transform="matrix(0.32766 0.00000 0.00000 0.33521 448.38936 580.86479)" font-family="Liberation Sans" font-size="100" fill="#111" stroke="#111" stroke-width="0.362" stroke-linejoin="round">3</text>
<text transform="matrix(0.32549 0.00000 0.00000 0.33286 639.34902 580.90000)" font-family="Liberation Sans" font-size="100" fill="#111" stroke="#111" stroke-width="0.365" stroke-linejoin="round">4</text>
<text transform="matrix(0.32766 0.00000 0.00000 0.33714 830.58936 580.86286)" font-family="Liberation Sans" font-size="100" fill="#111" stroke="#111" stroke-width="0.361" stroke-linejoin="round">5</text>
<text transform="matrix(0.35652 0.00000 0.00000 0.33099 1021.01739 580.86901)" font-family="Liberation Sans" font-size="100" fill="#111" stroke="#111" stroke-width="0.349" stroke-linejoin="round">6</text>
<text transform="matrix(0.34597 0.00000 0.00000 0.34778 500.10806 618.49667)" font-family="Liberation Serif" font-size="100" fill="#000" stroke="#fff" stroke-width="1.499" stroke-linejoin="round">log</text>
<text transform="matrix(0.24368 0.00000 0.00000 0.25735 544.90690 624.08529)" font-family="Liberation Serif" font-size="100" fill="#000" stroke="#fff" stroke-width="2.076" stroke-linejoin="round">10</text>
<text transform="matrix(0.40556 0.00000 0.00000 0.36212 586.20556 618.33788)" font-family="Liberation Serif" font-style="italic" font-size="100" fill="#000" stroke="#fff" stroke-width="1.357" stroke-linejoin="round">N</text>
<text transform="matrix(0.00000 -0.32177 0.34444 0.00000 30.76667 404.14355)" font-family="Liberation Serif" font-size="100" fill="#000" stroke="#fff" stroke-width="1.562" stroke-linejoin="round">log</text>
<text transform="matrix(0.00000 -0.24713 0.25294 0.00000 36.29412 359.42414)" font-family="Liberation Serif" font-size="100" fill="#000" stroke="#fff" stroke-width="2.080" stroke-linejoin="round">10</text>
<text transform="matrix(0.00000 -0.36076 0.33472 0.00000 30.76528 279.24304)" font-family="Liberation Serif" font-size="100" fill="#000" stroke="#fff" stroke-width="1.496" stroke-linejoin="round">of</text>
<text transform="matrix(0.00000 -0.38010 0.35287 0.00000 30.28966 239.86068)" font-family="Liberation Serif" font-size="100" fill="#000" stroke="#fff" stroke-width="1.420" stroke-linejoin="round">Steps</text>
<text transform="matrix(0.45833 0.00000 0.00000 0.42121 523.25833 274.57879)" font-family="Liberation Serif" font-style="italic" font-size="100" fill="#e8108c" stroke="#fff" stroke-width="0.546" stroke-linejoin="round">N</text>
<text transform="matrix(0.28780 0.00000 0.00000 0.28060 557.16098 261.51940)" font-family="Liberation Serif" font-size="100" fill="#e8108c" stroke="#fff" stroke-width="0.845" stroke-linejoin="round">3</text>
<text transform="matrix(0.46667 0.00000 0.00000 0.41515 695.46667 300.88485)" font-family="Liberation Serif" font-style="italic" font-size="100" fill="#c000e8" stroke="#fff" stroke-width="0.545" stroke-linejoin="round">N</text>
<text transform="matrix(0.26857 0.00000 0.00000 0.26364 729.48286 287.10000)" font-family="Liberation Serif" font-size="100" fill="#c000e8" stroke="#fff" stroke-width="0.902" stroke-linejoin="round">1</text>
<text transform="matrix(0.46250 0.00000 0.00000 0.41970 781.26250 339.68030)" font-family="Liberation Serif" font-style="italic" font-size="100" fill="#0000e0" stroke="#fff" stroke-width="0.545" stroke-linejoin="round">N</text>
<text transform="matrix(0.29746 0.00000 0.00000 0.27500 814.01017 326.05000)" font-family="Liberation Serif" font-size="100" fill="#0000e0" stroke="#fff" stroke-width="0.839" stroke-linejoin="round">0.6</text>
<text transform="matrix(0.45833 0.00000 0.00000 0.40909 905.75833 388.79091)" font-family="Liberation Serif" font-style="italic" font-size="100" fill="#1e90ff" stroke="#fff" stroke-width="0.554" stroke-linejoin="round">N</text>
<text transform="matrix(0.29231 0.00000 0.00000 0.27941 938.43077 375.14118)" font-family="Liberation Serif" font-size="100" fill="#1e90ff" stroke="#fff" stroke-width="0.840" stroke-linejoin="round">0.5</text>
<text transform="matrix(0.45833 0.00000 0.00000 0.41818 905.15833 470.18182)" font-family="Liberation Serif" font-style="italic" font-size="100" fill="#22dcb4" stroke="#fff" stroke-width="0.548" stroke-linejoin="round">N</text>
<text transform="matrix(0.29316 0.00000 0.00000 0.28088 938.42735 456.23824)" font-family="Liberation Serif" font-size="100" fill="#22dcb4" stroke="#fff" stroke-width="0.836" stroke-linejoin="round">0.5</text>
<text transform="matrix(0.29774 0.00000 0.00000 0.27746 128.80451 390.52254)" font-family="Liberation Sans" font-size="100" fill="#111" stroke="#111" stroke-width="0.417" stroke-linejoin="round">4.3</text>
<text transform="matrix(0.26809 0.00000 0.00000 0.26143 129.12766 422.73857)" font-family="Liberation Sans" font-size="100" fill="#111" stroke="#111" stroke-width="0.453" stroke-linejoin="round">5</text>
<text transform="matrix(0.30000 0.00000 0.00000 0.27887 128.70000 456.92113)" font-family="Liberation Sans" font-size="100" fill="#111" stroke="#111" stroke-width="0.415" stroke-linejoin="round">6</text>
<text transform="matrix(0.27391 0.00000 0.00000 0.27857 128.83043 491.30000)" font-family="Liberation Sans" font-size="100" fill="#111" stroke="#111" stroke-width="0.434" stroke-linejoin="round">7</text>
<text transform="matrix(0.29362 0.00000 0.00000 0.26761 129.02553 523.43239)" font-family="Liberation Sans" font-size="100" fill="#111" stroke="#111" stroke-width="0.428" stroke-linejoin="round">8</text>
<text transform="matrix(0.22157 0.00000 0.00000 0.17292 91.63529 355.02708)" font-family="Liberation Serif" font-style="italic" font-size="100" fill="#000">α</text>
<text transform="matrix(0.16000 0.00000 0.00000 0.13830 102.96000 357.80000)" font-family="Liberation Serif" font-style="italic" font-size="100" fill="#000">r</text>
<text transform="matrix(0.26809 0.00000 0.00000 0.19200 114.35957 357.03200)" font-family="Liberation Serif" font-size="100" fill="#000">=</text>
<text transform="matrix(0.20899 0.00000 0.00000 0.17727 135.00899 354.52273)" font-family="Liberation Serif" font-style="italic" font-size="100" fill="#000">M</text>
<text transform="matrix(0.26071 0.00000 0.00000 0.24478 152.60000 358.11045)" font-family="Liberation Serif" font-size="100" fill="#000">/</text>
<text transform="matrix(0.21111 0.00000 0.00000 0.17727 160.11111 354.52273)" font-family="Liberation Serif" font-style="italic" font-size="100" fill="#000">N</text>
<text transform="matrix(0.26214 0.00000 0.00000 0.24085 100.65146 259.45915)" font-family="Liberation Sans" font-size="100" fill="#111" stroke="#111" stroke-width="0.478" stroke-linejoin="round">50</text>
<text transform="matrix(0.27358 0.00000 0.00000 0.24085 379.60566 258.95915)" font-family="Liberation Sans" font-size="100" fill="#111" stroke="#111" stroke-width="0.467" stroke-linejoin="round">350</text>
<text transform="matrix(0.26667 0.00000 0.00000 0.25070 423.56667 43.04930)" font-family="Liberation Sans" font-size="100" fill="#111" stroke="#111" stroke-width="0.464" stroke-linejoin="round">16</text>
<text transform="matrix(0.24783 0.00000 0.00000 0.25000 423.66087 226.00000)" font-family="Liberation Sans" font-size="100" fill="#111" stroke="#111" stroke-width="0.482" stroke-linejoin="round">2</text>
<text transform="matrix(0.41667 0.00000 0.00000 0.43088 229.28333 52.23824)" font-family="Liberation Serif" font-size="100" fill="#000" stroke="#fff" stroke-width="0.566" stroke-linejoin="round">SID</text>
<text transform="matrix(0.34583 0.00000 0.00000 0.32121 239.44583 265.67879)" font-family="Liberation Serif" font-style="italic" font-size="100" fill="#000" stroke="#fff" stroke-width="0.720" stroke-linejoin="round">N</text>
<text transform="matrix(0.00000 0.29355 -0.29111 0.00000 445.91333 94.31290)" font-family="Liberation Serif" font-size="100" fill="#000" stroke="#fff" stroke-width="0.821" stroke-linejoin="round">log</text>
<text transform="matrix(0.00000 0.21707 -0.20597 0.00000 441.30597 132.23171)" font-family="Liberation Serif" font-size="100" fill="#000" stroke="#fff" stroke-width="1.135" stroke-linejoin="round">2</text>
<text transform="matrix(0.00000 0.38936 -0.32647 0.00000 445.35294 156.61064)" font-family="Liberation Serif" font-style="italic" font-size="100" fill="#000" stroke="#fff" stroke-width="0.673" stroke-linejoin="round">S</text>
<text transform="matrix(0.60000 0.00000 0.00000 0.58060 316.40000 198.71940)" font-family="Liberation Serif" font-size="100" fill="#000" stroke="#000" stroke-width="1.694" stroke-linejoin="round">2</text>
<text transform="matrix(0.38605 0.00000 0.00000 0.44143 348.35581 176.85857)" font-family="Liberation Serif" font-style="italic" font-size="100" fill="#000" stroke="#fff" stroke-width="0.581" stroke-linejoin="round">b</text>
<text transform="matrix(0.54444 0.00000 0.00000 0.45758 367.04444 176.84242)" font-family="Liberation Serif" font-style="italic" font-size="100" fill="#000" stroke="#fff" stroke-width="0.481" stroke-linejoin="round">N</text>
<text transform="matrix(0.26581 0.00000 0.00000 0.24648 707.07355 259.55352)" font-family="Liberation Sans" font-size="100" fill="#111" stroke="#111" stroke-width="0.469" stroke-linejoin="round">100</text>
<text transform="matrix(0.26776 0.00000 0.00000 0.23662 974.42897 259.26338)" font-family="Liberation Sans" font-size="100" fill="#111" stroke="#111" stroke-width="0.477" stroke-linejoin="round">5500</text>
<text transform="matrix(0.26381 0.00000 0.00000 0.23380 676.77238 58.56620)" font-family="Liberation Sans" font-size="100" fill="#111" stroke="#111" stroke-width="0.483" stroke-linejoin="round">40</text>
<text transform="matrix(0.26869 0.00000 0.00000 0.24648 676.45051 232.45352)" font-family="Liberation Sans" font-size="100" fill="#111" stroke="#111" stroke-width="0.466" stroke-linejoin="round">10</text>
<text transform="matrix(0.38545 0.00000 0.00000 0.38169 811.80000 50.83662)" font-family="Liberation Serif" font-size="100" fill="#000" stroke="#fff" stroke-width="0.626" stroke-linejoin="round">WalkSAT</text>
<text transform="matrix(0.32917 0.00000 0.00000 0.32879 856.12917 266.07121)" font-family="Liberation Serif" font-style="italic" font-size="100" fill="#000" stroke="#fff" stroke-width="0.730" stroke-linejoin="round">N</text>
<text transform="matrix(0.00000 -0.29677 0.30111 0.00000 684.57667 180.89355)" font-family="Liberation Serif" font-size="100" fill="#000" stroke="#fff" stroke-width="0.803" stroke-linejoin="round">log</text>
<text transform="matrix(0.00000 -0.18049 0.18507 0.00000 688.91493 141.92195)" font-family="Liberation Serif" font-size="100" fill="#000" stroke="#fff" stroke-width="1.313" stroke-linejoin="round">2</text>
<text transform="matrix(0.00000 -0.39574 0.32059 0.00000 684.45882 118.49574)" font-family="Liberation Serif" font-style="italic" font-size="100" fill="#000" stroke="#fff" stroke-width="0.674" stroke-linejoin="round">S</text>
<text transform="matrix(0.60000 0.00000 0.00000 0.58060 928.90000 201.41940)" font-family="Liberation Serif" font-size="100" fill="#000" stroke="#000" stroke-width="1.694" stroke-linejoin="round">2</text>
<text transform="matrix(0.39500 0.00000 0.00000 0.29792 960.51500 179.60208)" font-family="Liberation Serif" font-style="italic" font-size="100" fill="#000" stroke="#fff" stroke-width="0.700" stroke-linejoin="round">c</text>
<text transform="matrix(0.57500 0.00000 0.00000 0.45606 977.37500 179.44394)" font-family="Liberation Serif" font-style="italic" font-size="100" fill="#000" stroke="#fff" stroke-width="0.469" stroke-linejoin="round">N</text>
</svg>
</body></html>
